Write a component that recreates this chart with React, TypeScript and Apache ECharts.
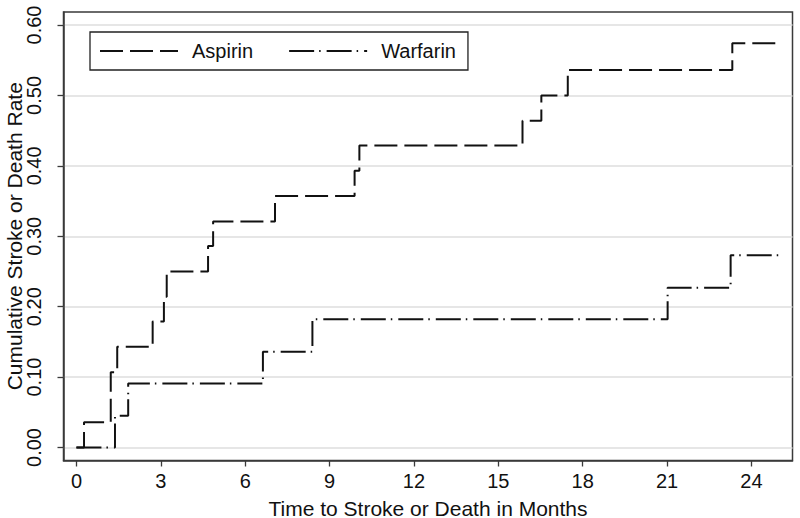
import { useEffect, useRef } from "react";
import * as echarts from "echarts";

const xTicks = [0, 3, 6, 9, 12, 15, 18, 21, 24];
const yTicks = [0, 0.1, 0.2, 0.3, 0.4, 0.5, 0.6];

const aspirinTimes = [0, 0.27, 1.22, 1.45, 2.71, 3.11, 3.21, 4.68, 4.86, 7.06, 9.89, 10.06, 15.86, 16.53, 17.47, 23.32, 25];
const aspirinRates = [0, 0.036, 0.107, 0.143, 0.179, 0.214, 0.25, 0.286, 0.321, 0.357, 0.393, 0.429, 0.464, 0.5, 0.536, 0.574, 0.574];

const warfarinTimes = [0, 1.37, 1.84, 6.63, 8.39, 21.02, 23.26, 25];
const warfarinRates = [0, 0.045, 0.091, 0.136, 0.182, 0.227, 0.273, 0.273];

const seriesNames = ["Aspirin", "Warfarin"];
const xTitle = "Time to Stroke or Death in Months";
const yTitle = "Cumulative Stroke or Death Rate";

const FONT = "'Liberation Sans', Arial, Helvetica, sans-serif";

export default function App() {
  const ref = useRef<HTMLDivElement>(null);
  useEffect(() => {
    const chart = echarts.init(ref.current!, undefined, { renderer: "svg" });
    const aspirin = aspirinTimes.map((t, i) => [t, aspirinRates[i]]);
    const warfarin = warfarinTimes.map((t, i) => [t, warfarinRates[i]]);
    chart.setOption({
      animation: false,
      backgroundColor: "#ffffff",
      textStyle: { fontFamily: FONT },
      grid: {
        left: 63.5,
        right: 7.5,
        top: 12,
        bottom: 57.5,
        show: true,
        borderColor: "#3a3a3a",
        borderWidth: 1.5,
        containLabel: false,
        outerBoundsMode: "none",
      },
      legend: {
        left: 90,
        top: 32,
        orient: "horizontal",
        data: seriesNames,
        borderColor: "#222",
        borderWidth: 1.3,
        padding: [9, 12, 9, 9],
        itemWidth: 78,
        itemHeight: 14,
        itemGap: 35,
        itemStyle: { color: "transparent", borderWidth: 0, opacity: 0 },
        textStyle: { fontSize: 20, color: "#111", fontFamily: FONT, padding: [0, 0, 0, 9] },
      },
      xAxis: {
        type: "value",
        min: -0.46,
        max: 25.46,
        name: xTitle,
        nameLocation: "middle",
        nameGap: 37,
        nameMoveOverlap: false,
        nameTextStyle: { fontSize: 21, color: "#111", fontFamily: FONT },
        axisLine: { show: true, onZero: false, lineStyle: { color: "#3a3a3a", width: 1.5 } },
        axisTick: { show: true, length: 6, customValues: xTicks, lineStyle: { color: "#3a3a3a", width: 1.3 } },
        axisLabel: {
          customValues: xTicks,
          fontSize: 20,
          color: "#111",
          margin: 10,
          fontFamily: FONT,
          formatter: (v: number) => String(v),
        },
        splitLine: { show: false },
      },
      yAxis: {
        type: "value",
        min: -0.0185,
        max: 0.6185,
        name: yTitle,
        nameLocation: "middle",
        nameGap: 39,
        nameRotate: 90,
        nameMoveOverlap: false,
        nameTextStyle: { fontSize: 21, color: "#111", fontFamily: FONT },
        axisLine: { show: true, onZero: false, lineStyle: { color: "#3a3a3a", width: 1.5 } },
        axisTick: { show: true, length: 6, customValues: yTicks, lineStyle: { color: "#3a3a3a", width: 1.3 } },
        axisLabel: {
          customValues: yTicks,
          rotate: 90,
          fontSize: 20,
          color: "#111",
          margin: 20,
          fontFamily: FONT,
          formatter: (v: number) => v.toFixed(2),
        },
        splitLine: { show: true, lineStyle: { color: "#dedede", width: 1.5 } },
      },
      series: [
        {
          name: seriesNames[0],
          type: "line",
          step: "end",
          data: aspirin,
          symbol: "none",
          lineStyle: { color: "#111", width: 2, type: [23, 7] },
          itemStyle: { color: "#111" },
        },
        {
          name: seriesNames[1],
          type: "line",
          step: "end",
          data: warfarin,
          symbol: "none",
          lineStyle: { color: "#111", width: 2, type: [25, 5, 1.5, 6] },
          itemStyle: { color: "#111" },
        },
      ],
    });
    return () => chart.dispose();
  }, []);
  return <div ref={ref} style={{ position: "absolute", left: 0, top: 0, width: 800, height: 518 }} />;
}
